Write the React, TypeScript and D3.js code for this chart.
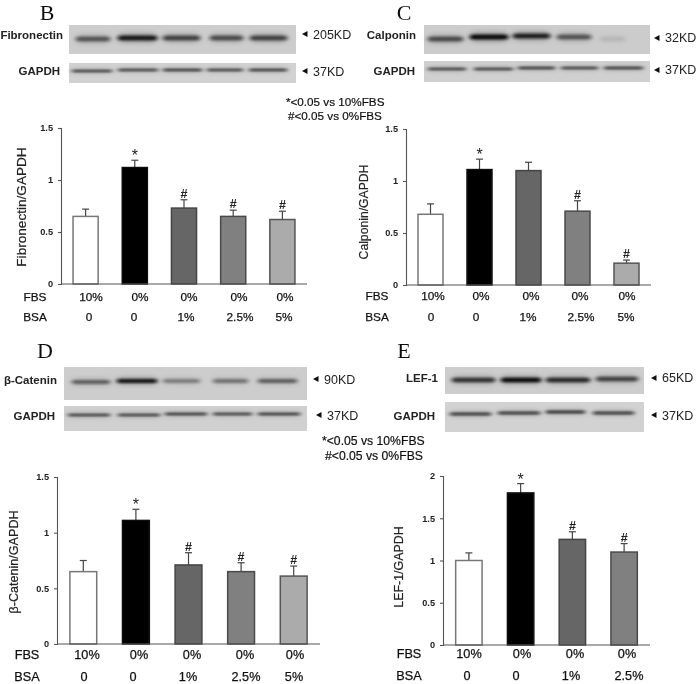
import { useEffect, useRef } from "react";
import * as d3 from "d3";

// values
const fbsFive = ["10%", "0%", "0%", "0%", "0%"];
const bsaFive = ["0", "0", "1%", "2.5%", "5%"];
const fbsFour = ["10%", "0%", "0%", "0%"];
const bsaFour = ["0", "0", "1%", "2.5%"];

const fibronectinMeans = [0.65, 1.12, 0.73, 0.65, 0.62];
const fibronectinTops = [0.72, 1.19, 0.81, 0.71, 0.7];
const calponinMeans = [0.68, 1.11, 1.1, 0.71, 0.21];
const calponinTops = [0.78, 1.21, 1.18, 0.81, 0.24];
const cateninMeans = [0.65, 1.11, 0.71, 0.65, 0.61];
const cateninTops = [0.75, 1.21, 0.82, 0.73, 0.7];
const lefMeans = [1.0, 1.8, 1.25, 1.1];
const lefTops = [1.09, 1.91, 1.34, 1.2];

const marksB = ["", "*", "#", "#", "#"];
const marksC = ["", "*", "", "#", "#"];
const marksD = ["", "*", "#", "#", "#"];
const marksE = ["", "*", "#", "#"];

const barFills = ["#ffffff", "#000000", "#666666", "#808080", "#ababab"];
const barStrokes = ["#777777", "#111111", "#444444", "#4a4a4a", "#555555"];

const bandDarkB = [0.55, 0.9, 0.65, 0.6, 0.65];
const bandDarkC = [0.6, 1, 0.85, 0.55, 0.08];
const bandDarkD = [0.5, 0.95, 0.35, 0.4, 0.5];
const bandDarkE = [0.75, 1, 0.8, 0.65];
const gapdhDark = [0.8, 0.8, 0.85, 0.8, 0.85];

type Blot = {
  x0: number;
  x1: number;
  y0: number;
  y1: number;
  fill: string;
  bandY: number[];
  bandH: number;
  lanes: [number, number][];
  dark: number[];
};

type Note = { text: string; x: number; y: number; anchor?: string };

type PanelProps = {
  means: number[];
  tops: number[];
  marks: string[];
  fbs: string[];
  bsa: string[];
  yMax: number;
  yTicks: number[];
  title: string;
  titleSize: number;
  rowSize: number;
  plot: { x0: number; x1: number; y0: number; y1: number };
  titlePos: [number, number];
  fbsX: number[];
  bsaX: number[];
  rowX: number;
  rowY: [number, number];
  letter: Note;
  blots: Blot[];
  labels: Note[];
  arrows: [number, number][];
};

function Axis({ plot, yMax, yTicks }: { plot: PanelProps["plot"]; yMax: number; yTicks: number[] }) {
  const ref = useRef<SVGGElement>(null);
  useEffect(() => {
    if (!ref.current) return;
    const y = d3.scaleLinear().domain([0, yMax]).range([plot.y1, plot.y0]);
    const g = d3.select(ref.current);
    g.selectAll("*").remove();
    g.attr("transform", `translate(${plot.x0},0)`).call(
      d3
        .axisLeft(y)
        .tickValues(yTicks)
        .tickFormat((d) => String(d))
        .tickSizeOuter(0)
        .tickSize(3)
        .tickPadding(5),
    );
    g.selectAll("path,line").attr("stroke", "#555").attr("stroke-width", 1.1);
    g.selectAll("text")
      .attr("fill", "#222")
      .style("font", "bold 9.2px 'Liberation Sans'");
  }, [plot, yMax, yTicks]);
  return <g ref={ref} />;
}

function Panel(p: PanelProps) {
  const x = d3
    .scaleBand<number>()
    .domain(p.means.map((_, i) => i))
    .range([p.plot.x0, p.plot.x1])
    .paddingInner(0.49)
    .paddingOuter(0.245);
  const y = d3.scaleLinear().domain([0, p.yMax]).range([p.plot.y1, p.plot.y0]);
  const w = x.bandwidth();

  return (
    <g>
      <text x={p.letter.x} y={p.letter.y} textAnchor="middle" fontFamily="Liberation Serif" fontSize={22} fill="#111">
        {p.letter.text}
      </text>

      {p.blots.map((b, bi) => (
        <g key={bi}>
          <rect x={b.x0} y={b.y0} width={b.x1 - b.x0} height={b.y1 - b.y0} fill={b.fill} filter="url(#soft)" />
          {b.lanes.map((l, i) => (
            <g key={i}>
              <rect
                x={l[0]}
                y={b.bandY[i] - b.bandH}
                width={l[1] - l[0]}
                height={b.bandH * 2}
                rx={b.bandH}
                fill="#555"
                opacity={b.dark[i] * 0.45}
                filter="url(#halo)"
              />
              <rect
                x={l[0]}
                y={b.bandY[i] - b.bandH / 2}
                width={l[1] - l[0]}
                height={b.bandH}
                rx={b.bandH / 2}
                fill="#111"
                opacity={b.dark[i]}
                filter="url(#band)"
              />
            </g>
          ))}
        </g>
      ))}

      {p.labels.map((l, i) => (
        <text
          key={i}
          x={l.x}
          y={l.y}
          textAnchor={l.anchor ?? "start"}
          dominantBaseline="middle"
          fontFamily="Liberation Sans"
          fontSize={l.anchor === "end" ? 11.5 : 12.5}
          fontWeight={l.anchor === "end" ? 700 : 400}
          fill="#222"
        >
          {l.text}
        </text>
      ))}
      {p.arrows.map((a, i) => (
        <path key={i} d={`M${a[0]},${a[1]}l5.5,-3v6z`} fill="#111" />
      ))}

      {p.means.map((m, i) => {
        const cx = x(i)! + w / 2;
        return (
          <g key={i}>
            <line x1={cx} x2={cx} y1={y(m)} y2={y(p.tops[i])} stroke="#444" strokeWidth={1.2} />
            <line x1={cx - 3.5} x2={cx + 3.5} y1={y(p.tops[i])} y2={y(p.tops[i])} stroke="#444" strokeWidth={1.2} />
            <rect
              x={x(i)}
              y={y(m)}
              width={w}
              height={y(0) - y(m)}
              fill={barFills[i]}
              stroke={barStrokes[i]}
              strokeWidth={1.5}
            />
            {p.marks[i] && (
              <text
                x={cx}
                y={y(p.tops[i]) + (p.marks[i] === "*" ? 1 : -2)}
                textAnchor="middle"
                fontFamily="Liberation Sans"
                fontSize={p.marks[i] === "*" ? 16 : 12.5}
                fontWeight={p.marks[i] === "#" ? 700 : 400}
                fill="#222"
              >
                {p.marks[i]}
              </text>
            )}
          </g>
        );
      })}

      <line x1={p.plot.x0} x2={p.plot.x1} y1={p.plot.y1} y2={p.plot.y1} stroke="#555" strokeWidth={1.2} />
      <Axis plot={p.plot} yMax={p.yMax} yTicks={p.yTicks} />

      <text
        transform={`translate(${p.titlePos[0]},${p.titlePos[1]}) rotate(-90)`}
        textAnchor="middle"
        dominantBaseline="middle"
        fontFamily="Liberation Sans"
        fontSize={p.titleSize}
        fill="#222"
        stroke="#222"
        strokeWidth={0.2}
      >
        {p.title}
      </text>

      <g fontFamily="Liberation Sans" fontSize={p.rowSize} fill="#111" stroke="#111" strokeWidth={0.25} textAnchor="middle" dominantBaseline="middle">
        {(["FBS", "BSA"] as const).map((name, r) => (
          <text key={name} x={p.rowX} y={p.rowY[r]}>
            {name}
          </text>
        ))}
        {p.fbs.map((t, i) => (
          <text key={i} x={p.fbsX[i]} y={p.rowY[0]}>
            {t}
          </text>
        ))}
        {p.bsa.map((t, i) => (
          <text key={i} x={p.bsaX[i]} y={p.rowY[1]}>
            {t}
          </text>
        ))}
      </g>
    </g>
  );
}

const notes: Note[] = [
  { text: "*<0.05 vs 10%FBS", x: 286, y: 103 },
  { text: "#<0.05 vs 0%FBS", x: 288, y: 117 },
  { text: "*<0.05 vs 10%FBS", x: 322, y: 442 },
  { text: "#<0.05 vs 0%FBS", x: 325, y: 457 },
];
const noteSizes = [11.7, 11.7, 12.2, 12.2];

export default function App() {
  return (
    <svg width={696} height={684} style={{ position: "absolute", left: 0, top: 0, background: "#fff" }}>
      <defs>
        <filter id="band" x="-20%" y="-200%" width="140%" height="500%">
          <feGaussianBlur stdDeviation="2 1" />
        </filter>
        <filter id="halo" x="-20%" y="-150%" width="140%" height="400%">
          <feGaussianBlur stdDeviation="3 2" />
        </filter>
        <filter id="soft" x="-2%" y="-5%" width="104%" height="110%">
          <feGaussianBlur stdDeviation="0.5" />
        </filter>
        <filter id="page" x="0" y="0" width="100%" height="100%">
          <feGaussianBlur stdDeviation="0.3" />
        </filter>
      </defs>

      <g filter="url(#page)">
        <rect width={696} height={684} fill="#fff" />
        <Panel
          means={fibronectinMeans}
          tops={fibronectinTops}
          marks={marksB}
          fbs={fbsFive}
          bsa={bsaFive}
          yMax={1.5}
          yTicks={[0, 0.5, 1, 1.5]}
          title="Fibronectin/GAPDH"
          titleSize={13.6}
          rowSize={11.8}
          plot={{ x0: 61, x1: 307, y0: 128, y1: 284 }}
          titlePos={[22, 207]}
          fbsX={[91, 140, 189, 239, 285]}
          bsaX={[89, 134, 186, 240, 284]}
          rowX={35}
          rowY={[298, 318]}
          letter={{ text: "B", x: 47, y: 20 }}
          blots={[
            { x0: 69, x1: 296, y0: 25, y1: 54, fill: "#cdcdcd", bandY: [39, 38, 38, 38, 38], bandH: 5, dark: bandDarkB,
              lanes: [[76, 110], [118, 157], [163, 200], [210, 243], [250, 287]] },
            { x0: 69, x1: 296, y0: 63, y1: 83, fill: "#d2d2d2", bandY: [71, 70, 70, 70, 70], bandH: 2.2, dark: gapdhDark,
              lanes: [[72, 112], [118, 158], [163, 202], [207, 243], [249, 287]] },
          ]}
          labels={[
            { text: "Fibronectin", x: 63, y: 36, anchor: "end" },
            { text: "GAPDH", x: 60, y: 72, anchor: "end" },
            { text: "205KD", x: 313, y: 36 },
            { text: "37KD", x: 313, y: 73 },
          ]}
          arrows={[[302, 34], [302, 71]]}
        />

        <Panel
          means={calponinMeans}
          tops={calponinTops}
          marks={marksC}
          fbs={fbsFive}
          bsa={bsaFive}
          yMax={1.5}
          yTicks={[0, 0.5, 1, 1.5]}
          title="Calponin/GAPDH"
          titleSize={12.2}
          rowSize={11.8}
          plot={{ x0: 406, x1: 651, y0: 129, y1: 285 }}
          titlePos={[365, 212]}
          fbsX={[433, 481, 531, 580, 627]}
          bsaX={[431, 476, 528, 581, 626]}
          rowX={377}
          rowY={[297, 318]}
          letter={{ text: "C", x: 404, y: 20 }}
          blots={[
            { x0: 424, x1: 650, y0: 25, y1: 54, fill: "#cccccc", bandY: [39, 37, 36, 37, 39], bandH: 5, dark: bandDarkC,
              lanes: [[428, 463], [470, 508], [513, 550], [557, 591], [600, 625]] },
            { x0: 424, x1: 650, y0: 61, y1: 82, fill: "#d0d0d0", bandY: [69, 69, 68, 68, 68], bandH: 2.2, dark: gapdhDark,
              lanes: [[428, 466], [474, 513], [518, 555], [561, 598], [604, 643]] },
          ]}
          labels={[
            { text: "Calponin", x: 416, y: 36, anchor: "end" },
            { text: "GAPDH", x: 415, y: 72, anchor: "end" },
            { text: "32KD", x: 665, y: 39 },
            { text: "37KD", x: 665, y: 71 },
          ]}
          arrows={[[654, 38], [654, 70]]}
        />

        <Panel
          means={cateninMeans}
          tops={cateninTops}
          marks={marksD}
          fbs={fbsFive}
          bsa={bsaFive}
          yMax={1.5}
          yTicks={[0, 0.5, 1, 1.5]}
          title="β-Catenin/GAPDH"
          titleSize={12.6}
          rowSize={12.7}
          plot={{ x0: 57, x1: 320, y0: 477, y1: 644 }}
          titlePos={[15, 562]}
          fbsX={[87, 139, 192, 245, 295]}
          bsaX={[84, 133, 188, 246, 294]}
          rowX={27}
          rowY={[656, 678]}
          letter={{ text: "D", x: 45, y: 358 }}
          blots={[
            { x0: 64, x1: 307, y0: 367, y1: 400, fill: "#cdcdcd", bandY: [382, 381, 381, 381, 381], bandH: 4, dark: bandDarkD,
              lanes: [[72, 110], [117, 157], [163, 200], [213, 248], [258, 297]] },
            { x0: 64, x1: 307, y0: 406, y1: 431, fill: "#d0d0d0", bandY: [415, 415, 414, 414, 414], bandH: 2.2, dark: gapdhDark,
              lanes: [[68, 110], [118, 160], [165, 207], [213, 252], [258, 300]] },
          ]}
          labels={[
            { text: "β-Catenin", x: 57, y: 381, anchor: "end" },
            { text: "GAPDH", x: 55, y: 417, anchor: "end" },
            { text: "90KD", x: 324, y: 381 },
            { text: "37KD", x: 327, y: 417 },
          ]}
          arrows={[[313, 379], [316, 415]]}
        />

        <Panel
          means={lefMeans}
          tops={lefTops}
          marks={marksE}
          fbs={fbsFour}
          bsa={bsaFour}
          yMax={2}
          yTicks={[0, 0.5, 1, 1.5, 2]}
          title="LEF-1/GAPDH"
          titleSize={12.4}
          rowSize={12.7}
          plot={{ x0: 443, x1: 650, y0: 476, y1: 645 }}
          titlePos={[400, 567]}
          fbsX={[469, 522, 575, 627]}
          bsaX={[467, 516, 571, 629]}
          rowX={409}
          rowY={[655, 677]}
          letter={{ text: "E", x: 404, y: 358 }}
          blots={[
            { x0: 445, x1: 644, y0: 367, y1: 394, fill: "#cdcdcd", bandY: [380, 380, 380, 379], bandH: 4.5, dark: bandDarkE,
              lanes: [[452, 495], [501, 541], [546, 590], [596, 638]] },
            { x0: 445, x1: 644, y0: 402, y1: 432, fill: "#d2d2d2", bandY: [414, 413, 412, 413], bandH: 2.6, dark: gapdhDark,
              lanes: [[450, 491], [498, 540], [546, 585], [593, 634]] },
          ]}
          labels={[
            { text: "LEF-1", x: 438, y: 379, anchor: "end" },
            { text: "GAPDH", x: 435, y: 417, anchor: "end" },
            { text: "65KD", x: 662, y: 379 },
            { text: "37KD", x: 662, y: 417 },
          ]}
          arrows={[[651, 378], [651, 415]]}
        />

        {notes.map((n, i) => (
          <text
            key={i}
            x={n.x}
            y={n.y}
            dominantBaseline="middle"
            fontFamily="Liberation Sans"
            fontSize={noteSizes[i]}
            fill="#111"
            stroke="#111"
            strokeWidth={0.2}
          >
            {n.text}
          </text>
        ))}
      </g>
    </svg>
  );
}
